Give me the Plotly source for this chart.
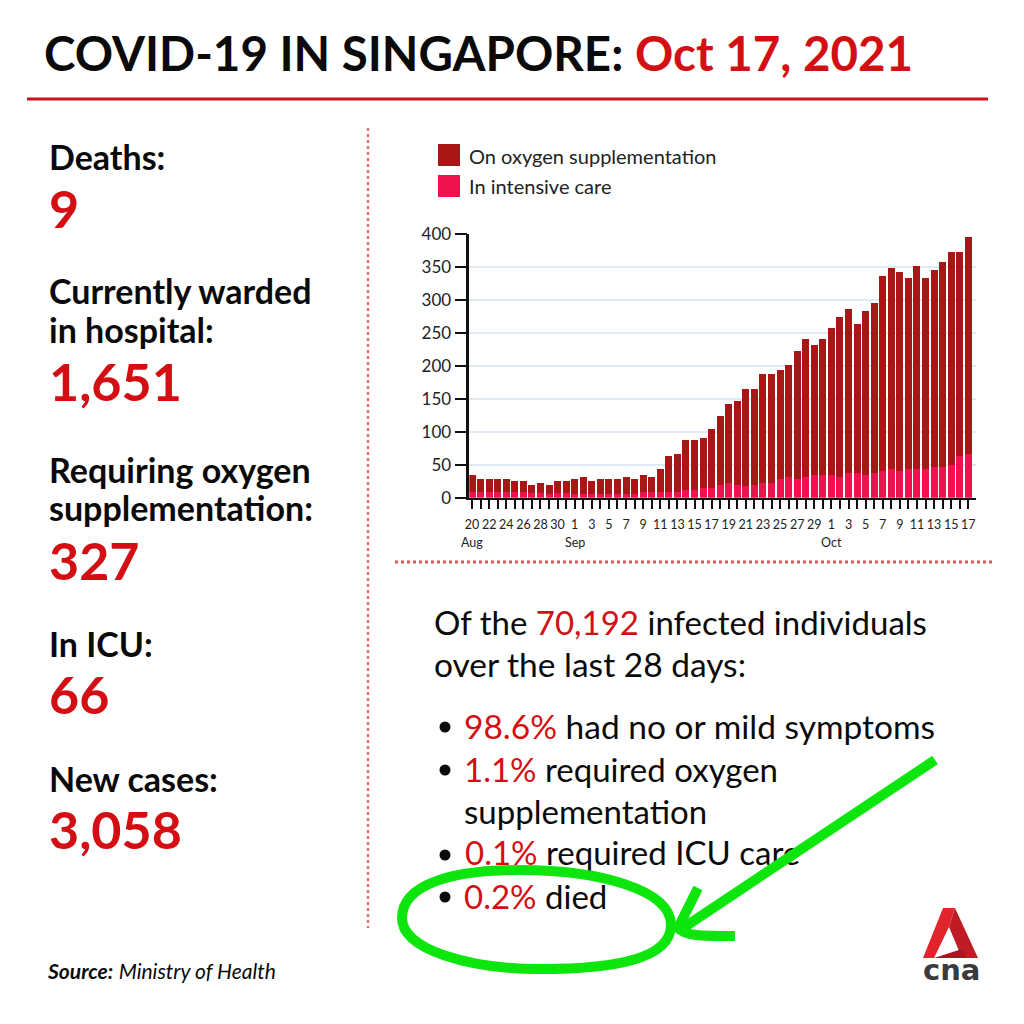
import plotly.graph_objects as go

# ---------- data ----------
day_labels = ["20","21","22","23","24","25","26","27","28","29","30","31",
 "1","2","3","4","5","6","7","8","9","10","11","12","13","14","15","16","17","18","19","20","21","22","23","24","25","26","27","28","29","30",
 "1","2","3","4","5","6","7","8","9","10","11","12","13","14","15","16","17"]
months = ["Aug"]*12 + ["Sep"]*30 + ["Oct"]*17
total = [34,29,29,29,29,26,26,20,23,20,26,26,
 29,32,26,29,29,29,32,29,34,32,43,64,66,87,87,90,104,124,142,147,165,165,188,188,194,202,222,240,231,240,
 257,274,286,263,283,295,337,349,343,334,352,334,346,358,372,372,395]
icu = [8,8,8,9,9,8,8,7,7,6,7,7,
 6,6,6,6,6,6,6,6,8,8,9,9,9,11,11,14,14,20,23,20,17,20,23,23,29,32,29,32,35,35,
 35,32,37,37,35,37,41,43,41,43,43,43,46,46,49,63,66]
oxygen = [t-i for t,i in zip(total,icu)]
categories = [f"{m} {d}" for m,d in zip(months,day_labels)]
tick_text = [d if i%2==0 else "" for i,d in enumerate(day_labels)]
y_ticks = [0,50,100,150,200,250,300,350,400]
month_marks = {"Aug":"Aug 20","Sep":"Sep 1","Oct":"Oct 1"}

RED="#d30f13"; BLACK="#0a0a0a"; GREEN="#0ce60c"; FONT="Lato"; BODY="Lato"
def X(p): return p/1024
def Y(p): return 1-p/1024

fig=go.Figure()
fig.add_bar(x=categories,y=icu,name="In intensive care",marker=dict(color="#f0124f",line_width=0),showlegend=False)
fig.add_bar(x=categories,y=oxygen,name="On oxygen supplementation",marker=dict(color="#a81616",line_width=0),showlegend=False)

ann=[]
def T(x,y,text,size,color=BLACK,bold=False,font=FONT):
    s=f"<b>{text}</b>" if bold else text
    ann.append(dict(x=X(x-3),y=Y(y),xref="paper",yref="paper",text=s,showarrow=False,xanchor="left",yanchor="middle",
                    align="left",font=dict(family=font,size=size,color=color)))
def red(s): return f'<span style="color:{RED}">{s}</span>'

T(45,52,f'COVID-19 IN SINGAPORE: {red("Oct 17, 2021")}',47.5,bold=True)
for y,t in [(156,"Deaths:"),(290,"Currently warded"),(329,"in hospital:"),(469,"Requiring oxygen"),(507,"supplementation:"),(643,"In ICU:"),(778,"New cases:")]:
    T(50,y,t,34,bold=True)
for y,t in [(208,"9"),(381,"1,651"),(560,"327"),(694,"66"),(829,"3,058")]:
    T(50,y,t,52,color=RED,bold=True)
T(48,970,"<b><i>Source:</i></b> <i>Ministry of Health</i>",21)
T(470,156,"On oxygen supplementation",20,color="#222222")
T(470,186,"In intensive care",20,color="#222222")
T(435,622,f'Of the {red("70,192")} infected individuals',33,font=BODY)
T(435,664,'over the last 28 days:',33.5,font=BODY)
T(465,726,f'{red("98.6%")} had no or mild symptoms',33.5,font=BODY)
T(465,769,f'{red("1.1%")} required oxygen',33,font=BODY)
T(465,811,'supplementation',33,font=BODY)
T(465,896,f'{red("0.2%")} died',33,font=BODY)

# month labels on the x scale
for m,c in month_marks.items():
    ann.append(dict(x=c,y=Y(542),xref="x",yref="paper",text=m,showarrow=False,xanchor="center",yanchor="middle",font=dict(family=FONT,size=12.5,color="#222222")))
ann.append(dict(x=X(951),y=Y(970),xref="paper",yref="paper",text="<b>cna</b>",showarrow=False,xanchor="center",yanchor="middle",font=dict(family="DejaVu Sans",size=29,color="#3a3a3c")))

# text that the green marker passes over, placed below the shapes
fig.add_scatter(x=[465],y=[857],xaxis="x2",yaxis="y2",mode="text",textposition="middle right",
    text=[f'{red("0.1%")} required ICU care'],textfont=dict(family=BODY,size=33,color=BLACK),showlegend=False,hoverinfo="skip")
fig.add_scatter(x=[445,445,445,445],y=[727,770,855,897],xaxis="x2",yaxis="y2",mode="markers",
    marker=dict(color=BLACK,size=11),showlegend=False,hoverinfo="skip")

def L(x0,y0,x1,y1,color,width,dash=None,layer="below"):
    return dict(type="line",xref="paper",yref="paper",x0=X(x0),y0=Y(y0),x1=X(x1),y1=Y(y1),layer=layer,line=dict(color=color,width=width,dash=dash))
def R(x0,y0,x1,y1,c): return dict(type="rect",xref="paper",yref="paper",x0=X(x0),y0=Y(y0),x1=X(x1),y1=Y(y1),fillcolor=c,line_width=0)
def P(pts,fill=None,line=None,width=0):
    d=""
    for seg in pts:
        cmd,vals=seg[0],seg[1:]
        d+=cmd+" "+" ".join(f"{X(vals[i]):.5f},{Y(vals[i+1]):.5f}" for i in range(0,len(vals),2))+" "
    if fill: d+="Z"
    return dict(type="path",xref="paper",yref="paper",path=d,fillcolor=fill,line=dict(color=line or "rgba(0,0,0,0)",width=width),layer="above")
shapes=[L(27,99,988,99,"#d0111b",3),
  L(368,128,368,928,"#e0796f",2.5,"dot"),L(395,562,992,562,"#e0584f",3,"dot"),
  R(438,144,460,166,"#a81616"),R(438,175,460,197,"#f0124f"),
  # CNA mark
  P([("M",943,908),("L",923,958),("L",934,958),("L",949,927),("L",955,908)],fill="#e2252c"),
  P([("M",955,908),("L",949,927),("L",962,958),("L",978,958)],fill="#c01c26"),
  P([("M",934,958),("L",962,949),("L",966,958)],fill="#a01a22"),
  # green marker
  P([("M",671,925),("C",671,890,600,870,520,870),("C",450,870,402,885,402,918),("C",402,950,470,969,540,969),("C",610,969,671,960,671,925)],line=GREEN,width=10),
  P([("M",935,760),("L",680,930)],line=GREEN,width=10),
  P([("M",698,888),("L",678,928),("C",685,936,700,936,735,936)],line=GREEN,width=10),
]
fig.update_layout(width=1024,height=1024,margin=dict(l=0,r=0,t=0,b=0,pad=0,autoexpand=False),paper_bgcolor="white",plot_bgcolor="rgba(0,0,0,0)",
  barmode="stack",bargap=0.18,annotations=ann,shapes=shapes,showlegend=False,
  xaxis=dict(automargin=False,domain=[X(469.3),X(976)],range=[-0.32,58.9],type="category",categoryorder="array",categoryarray=categories,
    tickmode="array",tickvals=categories,ticktext=tick_text,ticks="outside",ticklen=9,tickwidth=2.2,tickcolor="#111",ticklabelstandoff=5,
    showline=True,linecolor="#111",linewidth=2,showgrid=False,tickangle=0,tickfont=dict(family=FONT,size=12.5,color="#222222"),anchor="y"),
  yaxis=dict(automargin=False,domain=[Y(497.7),Y(234)],range=[0,400],tickvals=y_ticks,ticks="outside",ticklen=12,tickwidth=2,tickcolor="#111",
    showline=True,linecolor="#111",linewidth=2.5,showgrid=True,gridcolor="#e0e9f3",gridwidth=2,zeroline=False,tickfont=dict(family=FONT,size=17,color="#222222"),anchor="x"),
  xaxis2=dict(automargin=False,domain=[0,1],range=[0,1024],visible=False,anchor="y2",fixedrange=True),
  yaxis2=dict(automargin=False,domain=[0,1],range=[1024,0],visible=False,anchor="x2",fixedrange=True),
)
fig.write_html("out.html",config=dict(displayModeBar=False),post_script="document.body.style.margin='0';document.body.style.overflow='hidden';")
